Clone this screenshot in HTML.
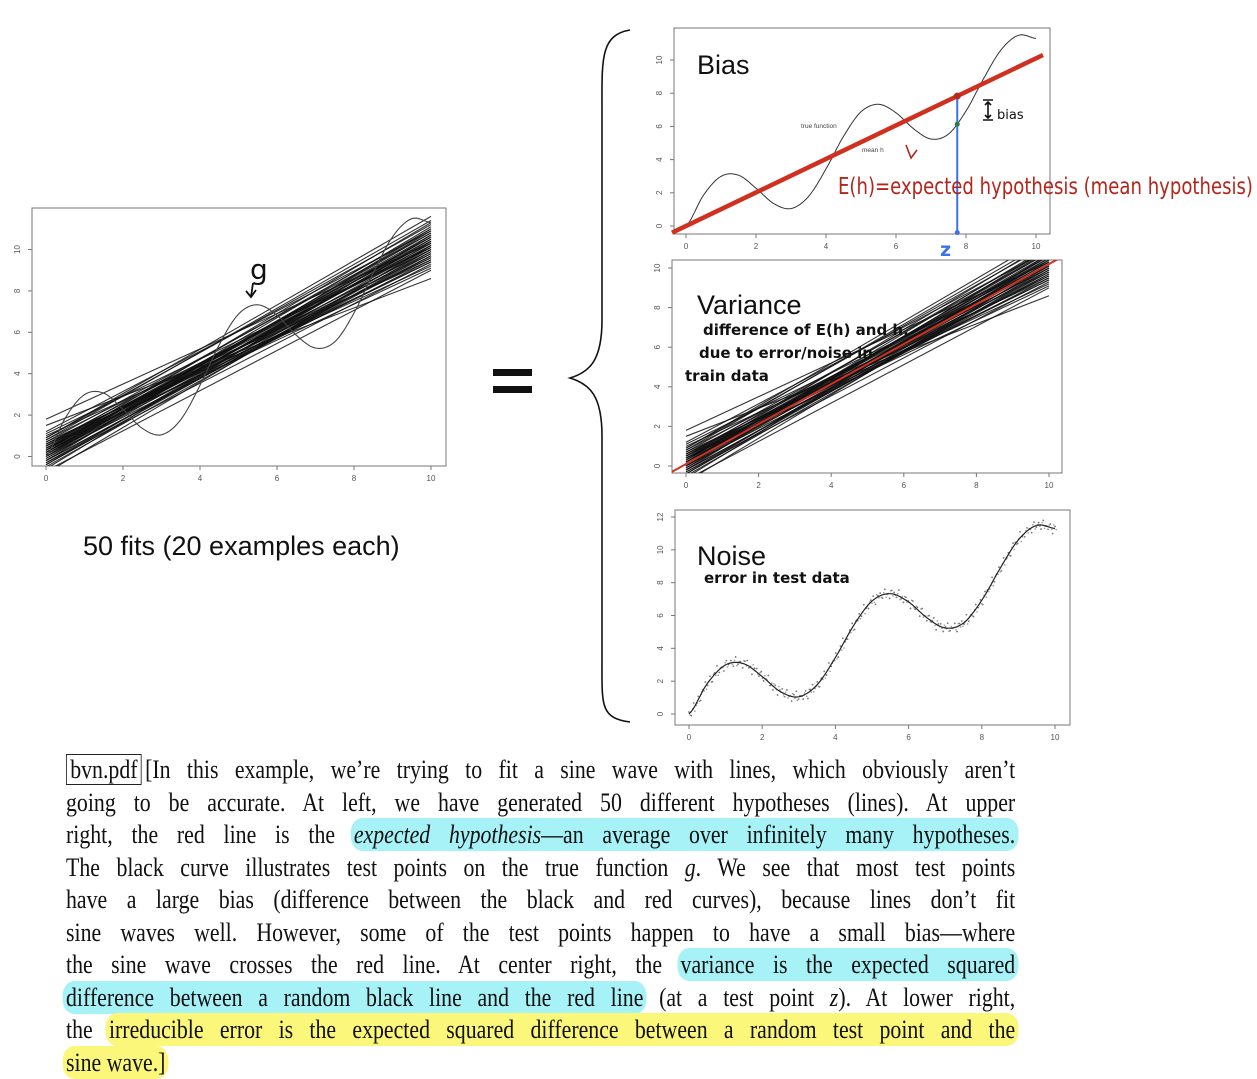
<!DOCTYPE html>
<html><head><meta charset="utf-8">
<style>
html,body{margin:0;padding:0;background:#fff;}
body{width:1257px;height:1079px;position:relative;overflow:hidden;font-family:"Liberation Sans",sans-serif;}
#chart{position:absolute;left:0;top:0;}
.txt{position:absolute;left:66px;width:1130px;transform:scaleX(0.84);transform-origin:0 0;font-family:"Liberation Serif",serif;font-size:26px;line-height:32.5px;color:#111;}
.ln{height:32.5px;white-space:nowrap;text-align:justify;text-align-last:justify;}
.ln.last{text-align-last:left;}
.hb{background:#a6f2f7;border-radius:14px;padding:2px 4px;margin:0 -4px;}
.hy{background:#fbf77a;border-radius:14px;padding:2px 4px;margin:0 -4px;}
.box{border:1px solid #222;padding:0 4px;margin-right:4px;}
</style></head>
<body>
<svg id="chart" width="1257" height="750"></svg>

<div class="txt" style="top:754px">
<div class="ln"><span class="box">bvn.pdf</span>[In this example, we’re trying to fit a sine wave with lines, which obviously aren’t</div>
<div class="ln">going to be accurate. At left, we have generated 50 different hypotheses (lines). At upper</div>
<div class="ln">right, the red line is the <span class="hb"><i>expected hypothesis</i>—an average over infinitely many hypotheses.</span></div>
<div class="ln">The black curve illustrates test points on the true function <i>g</i>. We see that most test points</div>
<div class="ln">have a large bias (difference between the black and red curves), because lines don’t fit</div>
<div class="ln">sine waves well. However, some of the test points happen to have a small bias—where</div>
<div class="ln">the sine wave crosses the red line. At center right, the <span class="hb">variance is the expected squared</span></div>
<div class="ln"><span class="hb">difference between a random black line and the red line</span> (at a test point <i>z</i>). At lower right,</div>
<div class="ln">the <span class="hy">irreducible error is the expected squared difference between a random test point and the</span></div>
<div class="ln last"><span class="hy">sine wave.]</span></div>
</div>

<script>
// ---- data ----
const gX = [0,0.5,1,1.5,2,2.5,3,3.5,4,4.5,5,5.5,6,6.5,7,7.5,8,8.5,9,9.5,10];
const gY = [0,1.86,2.99,3.06,2.28,1.36,1.05,1.78,3.44,5.40,6.88,7.33,6.82,5.86,5.24,5.54,6.93,8.87,10.61,11.49,11.30];
const fitStart = [1.8,1.5,1.2,1.0,0.9,0.8,0.7,0.7,0.6,0.6,0.5,0.5,0.5,0.4,0.4,0.4,0.3,0.3,0.3,0.2,0.2,0.2,0.1,0.1,0.1,0.0,0.0,-0.1,-0.1,-0.2,-0.2,-0.3,-0.3,-0.4,-0.5,-0.6,-0.7,-0.8,0.9,0.6,0.4,0.2,0.0,-0.2,1.1,0.8,0.5,0.3,0.1,-0.4];
const fitEnd = [10.3,8.6,10.9,9.5,11.2,10.1,9.2,10.8,10.4,9.8,11.0,9.6,10.2,10.6,9.1,10.0,11.3,10.5,9.4,10.7,9.9,10.3,11.1,9.7,10.4,10.9,9.5,10.2,10.6,9.8,11.0,10.1,9.3,10.5,9.9,10.7,9.0,10.2,11.6,9.6,10.0,10.8,10.4,9.7,10.1,11.4,9.4,10.6,10.3,10.0];
const meanStart = 0.0;
const meanEnd = 10.1;
const testZ = 7.75;
const noiseRes = [0.12,-0.25,0.31,-0.08,0.19,-0.34,0.05,0.27,-0.15,0.22,-0.29,0.09,0.36,-0.18,0.02,-0.31,0.24,-0.06,0.14,-0.22,0.33,-0.11,0.07,-0.27,0.18,0.29,-0.04,-0.36,0.11,0.21,-0.13,0.26,-0.2,0.04,0.38,-0.09,-0.24,0.16,-0.32,0.08,0.23,-0.17,0.3,-0.02,-0.28,0.13,0.35,-0.14,0.01,-0.23,0.2,-0.35,0.1,0.28,-0.07,0.17,-0.3,0.06,0.25,-0.19,0.32,-0.12,-0.01,0.22,-0.26,0.15,0.37,-0.1,-0.21,0.09,0.27,-0.33,0.03,0.19,-0.16,0.34,-0.05,-0.25,0.12,0.24,-0.37,0.08,0.16,-0.2,0.3,-0.03,-0.29,0.21,0.11,-0.14,0.36,-0.08,-0.22,0.18,0.05,-0.31,0.26,-0.12,0.14,-0.27,0.33,0.02,-0.18,0.23,-0.06,0.29,-0.34,0.1,0.17,-0.24,0.07,0.31,-0.15,-0.02,0.25,-0.3,0.13,0.2,-0.09,0.35,-0.19,0.04,-0.26,0.28,-0.11,0.15,-0.35,0.22,0.06,-0.13,0.32,-0.21,0.01,0.18,-0.28,0.27,-0.04,0.1,-0.32,0.24,0.08,-0.17,0.37,-0.07,-0.23,0.19,0.03,-0.3,0.26,-0.1,0.14,-0.25,0.3,0.0,-0.16,0.21,-0.33,0.12];
const xTicks = [0,2,4,6,8,10];
const yTicks = [0,2,4,6,8,10];
const yTicksNoise = [0,2,4,6,8,10,12];

const NS = "http://www.w3.org/2000/svg";
const svg = document.getElementById('chart');
function el(tag, attrs, parent){ const e=document.createElementNS(NS,tag); for(const k in attrs) e.setAttribute(k,attrs[k]); (parent||svg).appendChild(e); return e; }

function gAt(x){
  const h=gX[1]-gX[0]; let i=Math.floor(x/h); if(i<0)i=0; if(i>gX.length-2)i=gX.length-2;
  const t=(x-gX[i])/h;
  const p0=gY[Math.max(i-1,0)],p1=gY[i],p2=gY[i+1],p3=gY[Math.min(i+2,gY.length-1)];
  return 0.5*((2*p1)+(-p0+p2)*t+(2*p0-5*p1+4*p2-p3)*t*t+(-p0+3*p1-3*p2+p3)*t*t*t);
}

function makePlot(name, box, x0, x10, y0px, yTop, yTopVal, yt){
  const g = el('g',{});
  
  
  const sx = v => x0 + (x10-x0)*v/10;
  const sy = v => y0px + (yTop-y0px)*v/yTopVal;
  const cid = name+'-clip';
  const cp = el('clipPath',{id:cid},g);
  el('rect',{x:box[0],y:box[1],width:box[2]-box[0],height:box[3]-box[1]},cp);
  const frame = el('rect',{x:box[0],y:box[1],width:box[2]-box[0],height:box[3]-box[1],fill:'none',stroke:'#777','stroke-width':1},g);
  
  
  const xa = el('g',{},g);
  
  
  xTicks.forEach(v=>{
    el('line',{x1:sx(v),x2:sx(v),y1:box[3],y2:box[3]+4,stroke:'#777'},xa);
    const t=el('text',{x:sx(v),y:box[3]+15,'font-size':8,fill:'#555','text-anchor':'middle'},xa); t.textContent=v;
  });
  const ya = el('g',{},g);
  
  
  yt.forEach(v=>{
    el('line',{x1:box[0]-4,x2:box[0],y1:sy(v),y2:sy(v),stroke:'#777'},ya);
    const t=el('text',{x:box[0]-12,y:sy(v),'font-size':8,fill:'#555','text-anchor':'middle',transform:`rotate(-90 ${box[0]-12} ${sy(v)})`},ya); t.textContent=v;
  });
  const inner = el('g',{'clip-path':`url(#${cid})`},g);
  return {g,inner,sx,sy};
}
function curvePath(p){
  let d=''; for(let i=0;i<=200;i++){const x=i*10/200; d+=(i?'L':'M')+p.sx(x).toFixed(1)+','+p.sy(gAt(x)).toFixed(1);} return d;
}
function drawFits(p){
  fitStart.forEach((a,i)=>{
    const l=el('line',{x1:p.sx(0),y1:p.sy(a),x2:p.sx(10),y2:p.sy(fitEnd[i]),stroke:'#111','stroke-width':1.1,'stroke-opacity':0.85},p.inner);
    
    
  });
}

// Left plot
const L = makePlot('fits-plot',[32,208,446,466],46,431,456.5,249.5,10,yTicks);
drawFits(L);
const lc = el('path',{d:curvePath(L),fill:'none',stroke:'#444','stroke-width':1.1},L.inner);


const gl = el('text',{x:250,y:279,'font-size':28,'font-family':'DejaVu Sans',fill:'#111'}); gl.textContent='g';
 
el('path',{d:'M253 283 L251 297 M246 291 L251 297 L256 290',stroke:'#111','stroke-width':1.8,fill:'none'});
const lt = el('text',{x:83,y:555,'font-size':27,fill:'#111'}); lt.textContent='50 fits (20 examples each)';
 

// Equals and brace
const eq1=el('rect',{x:493,y:369,width:39,height:7,fill:'#111'});
 
el('rect',{x:493,y:386,width:39,height:7,fill:'#111'});
const br=el('path',{d:'M630 30 C600 35 602 60 602 110 L602 320 C602 360 590 372 570 378 C590 384 602 396 602 436 L602 660 C602 705 600 718 630 722',fill:'none',stroke:'#111','stroke-width':1.6});
 

// Bias plot
const B = makePlot('bias-plot',[674,28,1050,234],686,1036,226,60,10,yTicks);
const bc = el('path',{d:curvePath(B),fill:'none',stroke:'#333','stroke-width':1},B.inner);
 
const rl = el('line',{x1:B.sx(-0.4),y1:B.sy(meanStart-0.4*(meanEnd-meanStart)/10),x2:B.sx(10.2),y2:B.sy(meanStart+10.2*(meanEnd-meanStart)/10),stroke:'#d0301f','stroke-width':4.5});
 
const zr = meanStart+testZ*(meanEnd-meanStart)/10;
const bl = el('line',{x1:B.sx(testZ),y1:B.sy(-0.4),x2:B.sx(testZ),y2:B.sy(zr),stroke:'#3a72e8','stroke-width':2});
 
el('circle',{cx:B.sx(testZ),cy:B.sy(zr),r:3.5,fill:'#b52a1c'});
el('circle',{cx:B.sx(testZ),cy:B.sy(gAt(testZ)),r:2.5,fill:'#2e7a4a'});
el('circle',{cx:B.sx(testZ),cy:B.sy(-0.4),r:2.5,fill:'#3a72e8'});
function T(x,y,s,txt,name,extra){const t=el('text',Object.assign({x:x,y:y,'font-size':s,fill:'#111'},extra||{}));t.textContent=txt;return t;}
T(697,74,27,'Bias','bias-title');
T(801,128,6.5,'true function','true-function-label',{fill:'#444'});
T(862,152,6.5,'mean h','mean-h-label',{fill:'#444'});
T(838,194,23,'E(h)=expected hypothesis (mean hypothesis)','expected-hypothesis-note',{fill:'#b3261b','font-family':'DejaVu Sans','textLength':415,'lengthAdjust':'spacingAndGlyphs'});
el('path',{d:'M906 145 L911 158 L917 150',stroke:'#b3261b','stroke-width':1.6,fill:'none'});
el('path',{d:'M983 100 L993 100 M988 102 L988 118 M985 105 L988 102 L991 105 M985 115 L988 118 L991 115 M983 120 L993 120',stroke:'#111','stroke-width':1.6,fill:'none'});
T(997,119,13,'bias','bias-note',{'font-family':'DejaVu Sans'});
T(940,256,19,'z','z-note',{fill:'#3a72e8','font-family':'DejaVu Sans','font-weight':'bold'});

// Variance plot
const V = makePlot('variance-plot',[672,260,1062,473],686,1049,466,268,10,yTicks);
drawFits(V);
const vr = el('line',{x1:V.sx(-0.4),y1:V.sy(meanStart-0.4*(meanEnd-meanStart)/10+0.1),x2:V.sx(10.4),y2:V.sy(meanStart+10.4*(meanEnd-meanStart)/10+0.1),stroke:'#d0301f','stroke-width':2},V.inner);
 
T(697,314,27,'Variance','variance-title');
T(703,335,15,'difference of E(h) and h.','variance-note-1',{'font-family':'DejaVu Sans','font-weight':'bold'});
T(699,358,15,'due to error/noise in','variance-note-2',{'font-family':'DejaVu Sans','font-weight':'bold'});
T(685,381,15,'train data','variance-note-3',{'font-family':'DejaVu Sans','font-weight':'bold'});

// Noise plot
const N = makePlot('noise-plot',[675,510,1070,725],689,1055,714,517,12,yTicksNoise);
noiseRes.forEach((r,i)=>{
  const x = i*10/(noiseRes.length-1);
  const c = el('circle',{cx:N.sx(x),cy:N.sy(gAt(x)+r),r:0.9,fill:'#777'},N.inner);
  
  
  const c2 = el('circle',{cx:N.sx(x)+1.2,cy:N.sy(gAt(x)-r*0.6),r:0.8,fill:'#999'},N.inner);
  
  
});
const nc = el('path',{d:curvePath(N),fill:'none',stroke:'#222','stroke-width':1.2},N.inner);
 
T(697,565,27,'Noise','noise-title');
T(704,583,15,'error in test data','noise-note',{'font-family':'DejaVu Sans','font-weight':'bold'});
</script>
</body></html>
